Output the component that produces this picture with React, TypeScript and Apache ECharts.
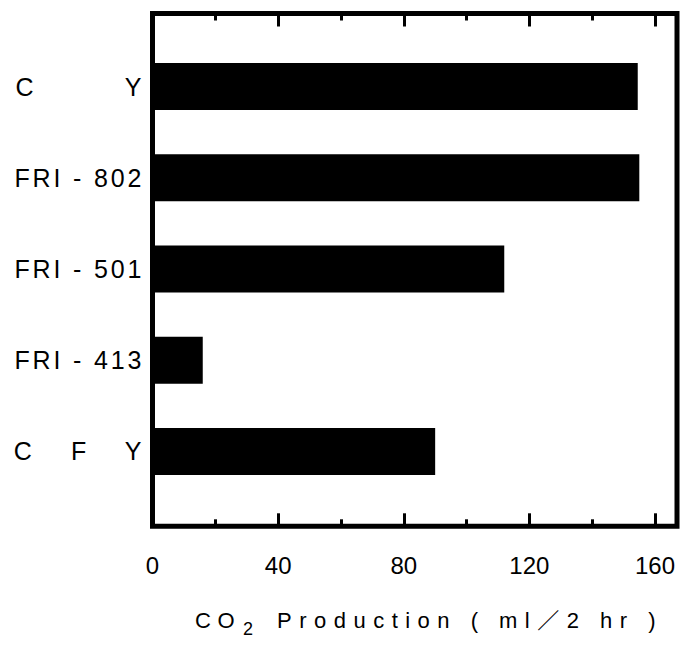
import React, { useEffect, useRef } from "react";
import * as echarts from "echarts";

// ---- data ----
const strains: string[] = ["C        Y", "FRI - 802", "FRI - 501", "FRI - 413", "C    F    Y"];
const co2Production: number[] = [154.5, 155, 112, 16, 90];
const axisMin = 0;
const axisMax = 167;
const majorInterval = 40;
const minorInterval = 20;
const titleMain = "CO";
const titleSub = "2";
const titleRest = "Production ( ml／2 hr )";

const FONT = "'Liberation Sans', Arial, Helvetica, 'Noto Sans CJK JP', sans-serif";

export default function App() {
  const ref = useRef<HTMLDivElement | null>(null);

  useEffect(() => {
    const el = ref.current;
    if (!el) return;
    const chart = echarts.init(el, null, { renderer: "svg" });

    const tickAxis = (position: "top" | "bottom", interval: number, length: number, labels: boolean) => ({
      type: "value",
      gridIndex: 0,
      position,
      min: axisMin,
      max: axisMax,
      interval,
      axisLine: { show: false, onZero: false },
      splitLine: { show: false },
      axisTick: { show: true, inside: true, length, lineStyle: { color: "#000", width: 3 } },
      axisLabel: labels
        ? {
            show: true,
            color: "#000",
            fontSize: 24,
            fontFamily: FONT,
            margin: 27,
            formatter: (v: number) => (v % majorInterval === 0 ? String(v) : ""),
          }
        : { show: false },
    });

    const titleStyle = (text: string, size: number) => ({
      text,
      fill: "#000",
      fontSize: size,
      fontFamily: FONT,
      textAlign: "left",
      textVerticalAlign: "middle",
    });

    chart.setOption({
      animation: false,
      backgroundColor: "#fff",
      grid: [
        {
          left: 152.5,
          right: 3,
          top: 13.5,
          bottom: 122.7,
          show: true,
          borderColor: "#000",
          borderWidth: 5,
          backgroundColor: "transparent",
          z: 5,
        },
        { left: 152.5, right: 3, top: 41, height: 456 },
      ],
      xAxis: [
        tickAxis("bottom", majorInterval, 13, true),
        tickAxis("bottom", minorInterval, 7, false),
        tickAxis("top", majorInterval, 13, false),
        tickAxis("top", minorInterval, 7, false),
        { type: "value", gridIndex: 1, min: axisMin, max: axisMax, show: false },
      ],
      yAxis: [
        { type: "value", gridIndex: 0, min: 0, max: 1, show: false },
        {
          type: "category",
          gridIndex: 1,
          data: strains,
          inverse: true,
          axisLine: { show: false },
          axisTick: { show: false },
          splitLine: { show: false },
          axisLabel: { color: "#000", fontSize: 25, fontFamily: FONT, margin: 11 },
        },
      ],
      series: [
        {
          type: "bar",
          xAxisIndex: 4,
          yAxisIndex: 1,
          data: co2Production,
          barWidth: 47,
          silent: true,
          itemStyle: { color: "#000" },
        },
      ],
      graphic: [
        { type: "text", x: 195, y: 620, silent: true, style: titleStyle(titleMain, 22) },
        { type: "text", x: 243, y: 629, silent: true, style: titleStyle(titleSub, 18) },
        { type: "text", x: 277, y: 620, silent: true, style: titleStyle(titleRest, 22) },
      ],
    });

    // widen letter spacing of the tracked-out labels, as in the typeset original
    try {
      (chart.getZr() as any).refreshImmediately?.();
      const targets: Record<string, number> = {};
      strains.forEach((s) => (targets[s] = 130));
      targets[titleMain] = 46;
      targets[titleRest] = 386;
      const texts = el.querySelectorAll("text");
      texts.forEach((t) => {
        const s = t.textContent || "";
        const target = targets[s];
        if (!target) return;
        const st = t as SVGTextElement;
        t.setAttribute("xml:space", "preserve");
        st.style.whiteSpace = "pre";
        const nat = st.getComputedTextLength();
        const n = Array.from(s).length;
        const ls = (target - nat) / Math.max(1, n);
        if (ls <= 0) return;
        st.style.letterSpacing = ls + "px";
        const anchor = t.getAttribute("text-anchor") || st.style.textAnchor;
        const x = parseFloat(t.getAttribute("x") || "0");
        if (anchor === "end") t.setAttribute("x", String(x + ls));
        else if (anchor === "middle") t.setAttribute("x", String(x + ls / 2));
      });
    } catch (e) {
      // ignore
    }

    return () => chart.dispose();
  }, []);

  return <div ref={ref} style={{ width: 680, height: 649, position: "absolute", left: 0, top: 0 }} />;
}
